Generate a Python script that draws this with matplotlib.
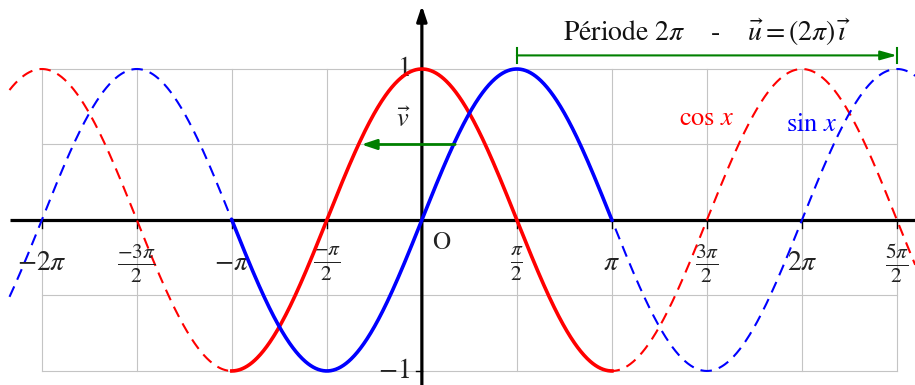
import numpy as np
import matplotlib
matplotlib.use("Agg")
import matplotlib.pyplot as plt

plt.rcParams['mathtext.fontset'] = 'stix'
plt.rcParams['font.family'] = ['STIXGeneral', 'DejaVu Serif']

PI = np.pi
# tick positions (multiples of pi/2) and labels
tick_mult = [-4, -3, -2, -1, 1, 2, 3, 4, 5]
tick_labels = [r'$-2\pi$', r'$\frac{-3\pi}{2}$', r'$-\pi$', r'$\frac{-\pi}{2}$',
               r'$\frac{\pi}{2}$', r'$\pi$', r'$\frac{3\pi}{2}$', r'$2\pi$', r'$\frac{5\pi}{2}$']
grid_y = [-1, -0.5, 0.5, 1]

# curves
x_full = np.linspace(-2.17 * PI, 2.6 * PI, 1200)
x_solid = np.linspace(-PI, PI, 600)
cos_full = np.cos(x_full)
sin_full = np.sin(x_full)
cos_solid = np.cos(x_solid)
sin_solid = np.sin(x_solid)

fig = plt.figure(figsize=(9.15, 3.85), dpi=100)
ax = fig.add_axes([0, 0, 1, 1])
ax.set_xlim(-2.22 * PI, 2.595 * PI)
ax.set_ylim(-1.093, 1.457)
ax.axis('off')

xmin_g, xmax_g = -2 * PI, 2.5 * PI
gc = '#c4c4c4'
for m in range(-4, 6):
    ax.plot([m * PI / 2] * 2, [-1, 1], color=gc, lw=0.8, zorder=1)
for gy in grid_y:
    ax.plot([xmin_g, xmax_g], [gy, gy], color=gc, lw=0.8, zorder=1)

# axes
ax.plot([-2.165 * PI, 2.6 * PI], [0, 0], color='black', lw=2.3, zorder=2, solid_capstyle='butt')
ax.annotate('', xy=(0, 1.42), xytext=(0, -1.12),
            arrowprops=dict(arrowstyle='-|>,head_length=0.9,head_width=0.3', color='black', lw=2.3,
                            shrinkA=0, shrinkB=0), zorder=2)
for m in tick_mult:
    ax.plot([m * PI / 2] * 2, [0, -0.05], color='black', lw=1.0, zorder=2)
for yv in [-1, 1]:
    ax.plot([-0.1, 0], [yv, yv], color='black', lw=1.0, zorder=2)

# dashed curves
ax.plot(x_full, cos_full, color='red', lw=1.5, dashes=(5.5, 3.5), zorder=3)
ax.plot(x_full, sin_full, color='blue', lw=1.5, dashes=(5.5, 3.5), zorder=3)
# solid curves
ax.plot(x_solid, cos_solid, color='red', lw=2.6, zorder=4)
ax.plot(x_solid, sin_solid, color='blue', lw=2.6, zorder=4)

# tick labels
for m, lab in zip(tick_mult, tick_labels):
    fs = 22 if 'frac' in lab else 20
    ax.text(m * PI / 2, -0.29, lab, ha='center', va='center', fontsize=fs, color='#222222')
ax.text(0.32, -0.15, 'O', ha='center', va='center', fontsize=18, color='#222222')
ax.text(-0.2, 1.0, r'$1$', ha='right', va='center', fontsize=20, color='#222222')
ax.text(-0.2, -1.0, r'$-1$', ha='right', va='center', fontsize=20, color='#222222')

# vector v
ax.annotate('', xy=(-1.0, 0.5), xytext=(0.55, 0.5),
            arrowprops=dict(arrowstyle='-|>,head_length=0.9,head_width=0.3', color='green', lw=2.0,
                            shrinkA=0, shrinkB=0), zorder=5)
ax.text(-0.3, 0.66, r'$\vec{v}$', ha='center', va='center', fontsize=19, color='#222222')

# period arrow
ya = 1.09
ax.annotate('', xy=(2.5 * PI, ya), xytext=(PI / 2, ya),
            arrowprops=dict(arrowstyle='-|>,head_length=1.0,head_width=0.28', color='green', lw=1.5,
                            shrinkA=0, shrinkB=0), zorder=5)
for xb in [PI / 2, 2.5 * PI]:
    ax.plot([xb] * 2, [ya - 0.05, ya + 0.05], color='green', lw=1.5, zorder=5)
ax.text(1.5 * PI, 1.24, r'Période $2\pi$    -    $\vec{u}=(2\pi)\,\vec{\imath}$', ha='center', va='center',
        fontsize=20, color='#111111')

# curve labels
ax.text(3.0 * PI / 2, 0.67, r'$\cos\,x$', ha='center', va='center', fontsize=19, color='red')
ax.text(4.1 * PI / 2, 0.63, r'$\sin\,x$', ha='center', va='center', fontsize=19, color='blue')

fig.savefig('out.png', dpi=100)
